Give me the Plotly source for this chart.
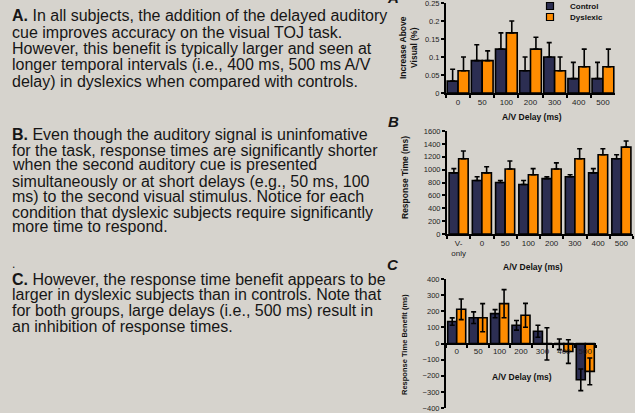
import plotly.graph_objects as go

# ---------------- data ----------------
delays = ["0", "50", "100", "200", "300", "400", "500"]
conds_B = ["V-<br>only", "0", "50", "100", "200", "300", "400", "500"]

# A: accuracy increase above visual
ctrl_acc = [0.033, 0.09, 0.122, 0.062, 0.10, 0.04, 0.04]
ctrl_acc_err = [0.033, 0.044, 0.045, 0.038, 0.04, 0.045, 0.045]
dys_acc = [0.062, 0.09, 0.167, 0.122, 0.062, 0.073, 0.073]
dys_acc_err = [0.038, 0.027, 0.033, 0.033, 0.038, 0.049, 0.049]

# B: response time (ms)
ctrl_rt = [950, 830, 800, 770, 860, 890, 950, 1170]
ctrl_rt_err = [65, 60, 30, 60, 30, 30, 65, 60]
dys_rt = [1170, 950, 1010, 920, 1010, 1170, 1230, 1350]
dys_rt_err = [120, 95, 125, 95, 95, 155, 95, 95]

# C: response time benefit (ms)
ctrl_ben = [136, 160, 185, 113, 76, -5, -225]
ctrl_ben_err = [23, 36, 25, 30, 37, 33, 67]
dys_ben = [212, 160, 247, 175, -2, -50, -173]
dys_ben_err = [64, 87, 87, 74, 100, 73, 83]

# ---------------- style ----------------
W, H = 635, 413
BG = "#d6d3cd"
NAVY = "#2c2e52"
ORANGE = "#ff8c00"
FONT = "Liberation Sans, Arial, sans-serif"
TXT = "#161616"
TICK = "#1e1e1e"


def px_x(x):
    return x / W


def px_y(y):
    return 1 - y / H


fig = go.Figure()


def add_pair(xs, c, ce, d, de, xa, ya, w, symmetric):
    for vals, errs, col, off in ((c, ce, NAVY, -w), (d, de, ORANGE, 0)):
        err = dict(type="data", array=errs, color="black", thickness=1.6, width=2.5,
                   visible=True)
        if not symmetric:
            err.update(symmetric=False, arrayminus=[0] * len(errs))
        fig.add_trace(go.Bar(
            x=xs, y=vals, width=w, offset=off,
            marker=dict(color=col, line=dict(color="black", width=1.6)),
            error_y=err, xaxis=xa, yaxis=ya, showlegend=False,
            hoverinfo="x+y"))


add_pair(delays, ctrl_acc, ctrl_acc_err, dys_acc, dys_acc_err, "x", "y", 0.45, False)
add_pair(conds_B, ctrl_rt, ctrl_rt_err, dys_rt, dys_rt_err, "x2", "y2", 0.41, False)
add_pair(delays, ctrl_ben, ctrl_ben_err, dys_ben, dys_ben_err, "x3", "y3", 0.42, True)

# legend entries
fig.add_trace(go.Scatter(x=[None], y=[None], mode="markers", name="Control",
                         marker=dict(symbol="square", size=7, color=NAVY,
                                     line=dict(color="black", width=1.2)),
                         xaxis="x", yaxis="y", legend="legend"))
fig.add_trace(go.Scatter(x=[None], y=[None], mode="markers", name="Dyslexic",
                         marker=dict(symbol="square", size=7, color=ORANGE,
                                     line=dict(color="black", width=1.2)),
                         xaxis="x", yaxis="y", legend="legend2"))

xcommon = dict(type="category", showline=True, linecolor="black", linewidth=2,
               ticks="outside", tickson="boundaries", ticklen=3, tickcolor="black",
               tickwidth=1.5, showgrid=False, zeroline=False, tickangle=0,
               tickfont=dict(size=8, color=TICK, family=FONT))
ycommon = dict(showline=True, linecolor="black", linewidth=2, ticks="outside",
               ticklen=3, tickcolor="black", tickwidth=1.5, showgrid=False,
               zeroline=False, ticklabeloverflow="allow",
               tickfont=dict(size=7.5, color=TICK, family=FONT))

ydomA = [px_y(93), px_y(3)]
ydomB = [px_y(234), px_y(131)]
ydomC = [px_y(408), px_y(279)]

fig.update_layout(
    width=W, height=H, margin=dict(l=0, r=0, t=0, b=0, autoexpand=False),
    paper_bgcolor=BG, plot_bgcolor="rgba(0,0,0,0)",
    barmode="group",
    xaxis=dict(xcommon, domain=[px_x(446), px_x(615)], anchor="y"),
    yaxis=dict(ycommon, domain=ydomA, anchor="x", range=[0, 0.2501],
               tickvals=[0, 0.05, 0.1, 0.15, 0.2, 0.25]),
    xaxis2=dict(xcommon, domain=[px_x(447), px_x(633)], anchor="y2"),
    yaxis2=dict(ycommon, domain=ydomB, anchor="x2", range=[0, 1600], dtick=200),
    xaxis3=dict(xcommon, domain=[px_x(446), px_x(596)], anchor="free",
                position=(ydomC[0] + ydomC[1]) / 2),
    yaxis3=dict(ycommon, domain=ydomC, anchor="x3", range=[-400, 400], dtick=100),
    legend=dict(x=px_x(530), y=px_y(6), xanchor="left", yanchor="middle",
                bgcolor="rgba(0,0,0,0)", borderwidth=0,
                font=dict(size=8, color="#111", family=FONT, weight="bold")),
    legend2=dict(x=px_x(530), y=px_y(17), xanchor="left", yanchor="middle",
                 bgcolor="rgba(0,0,0,0)", borderwidth=0,
                 font=dict(size=8, color="#111", family=FONT, weight="bold")),
)

ann = []


def txt(x, y, s, size=16, **kw):
    d = dict(x=px_x(x), y=px_y(y), xref="paper", yref="paper", text=s,
             showarrow=False, xanchor="left", yanchor="middle",
             font=dict(size=size, color=TXT, family=FONT))
    d.update(kw)
    ann.append(d)


paraA = ["<b>A.</b> In all subjects, the addition of the delayed auditory",
         "cue improves accuracy on the visual TOJ task.",
         "However, this benefit is typically larger and seen at",
         "longer temporal intervals (i.e., 400 ms, 500 ms A/V",
         "delay) in dyslexics when compared with controls."]
yA = [15, 32, 48, 65, 81]
paraB = ["<b>B.</b> Even though the auditory signal is uninfomative",
         "for the task, response times are significantly shorter",
         "when the second auditory cue is presented",
         "simultaneously or at short delays (e.g., 50 ms, 100",
         "ms) to the second visual stimulus. Notice for each",
         "condition that dyslexic subjects require significantly",
         "more time to respond."]
yB = [134, 150, 165, 181, 196, 212, 227]
paraC = ["<b>C.</b> However, the response time benefit appears to be",
         "larger in dyslexic subjects than in controls. Note that",
         "for both groups, large delays (i.e., 500 ms) result in",
         "an inhibition of response times."]
yC = [279, 294, 310, 326]

for lines, ys in ((paraA, yA), (paraB, yB), (paraC, yC)):
    for s, y in zip(lines, ys):
        txt(10, y, s)
txt(10, 264, ".", size=12)

# panel letters
for letter, y in (("A", -2), ("B", 122), ("C", 264)):
    ann.append(dict(x=px_x(393), y=px_y(y), xref="paper", yref="paper",
                    text="<b><i>%s</i></b>" % letter, showarrow=False,
                    xanchor="center", yanchor="middle",
                    font=dict(size=15, color=TXT, family=FONT)))

# axis titles
def title(x, y, s, size=8.5, angle=0):
    ann.append(dict(x=px_x(x), y=px_y(y), xref="paper", yref="paper",
                    text="<b>%s</b>" % s, showarrow=False, textangle=angle,
                    xanchor="center", yanchor="middle",
                    font=dict(size=size, color="#111", family=FONT)))


title(532, 117, "A/V Delay (ms)")
title(533, 267, "A/V Delay (ms)")
title(522, 377, "A/V Delay (ms)")
title(408, 48, "Increase Above<br>Visual (%)", size=8.5, angle=-90)
title(405, 178, "Response Time (ms)", size=8.5, angle=-90)
title(404, 345, "Response Time Benefit (ms)", size=7.5, angle=-90)

fig.update_layout(annotations=ann)
fig.write_html("out.html",
               config={"displayModeBar": False},
               post_script="document.body.style.margin='0';"
                           "document.body.style.background='%s';" % BG)
